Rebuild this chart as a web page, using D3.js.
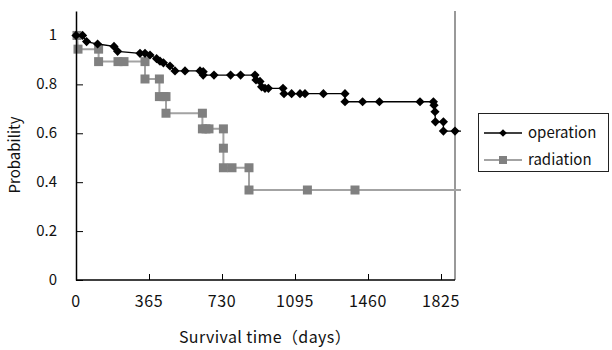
<!DOCTYPE html>
<html lang="en">
<head>
  <meta charset="UTF-8">
  <title>Survival curves</title>
  <script src="https://d3js.org/d3.v7.min.js"></script>
  <style>
    body {
      margin: 0;
      background: #fff;
    }
    svg text {
      font-family: "Noto Sans CJK JP", "Noto Sans", sans-serif;
      fill: #111;
    }
  </style>
</head>
<body>
  <script>
    // Kaplan-Meier points (days, probability)
    const opDays = [0, 33, 53, 108, 190, 208, 320, 345, 370, 403, 420, 437, 470, 495, 545, 620, 636, 636,
      690, 773, 823, 895, 900, 920, 928, 945, 962, 1035, 1040, 1078, 1120, 1145, 1237, 1345, 1345,
      1433, 1517, 1720, 1787, 1790, 1795, 1797, 1837, 1837, 1895];
    const opProb = [1.0, 1.0, 0.975, 0.965, 0.955, 0.935, 0.927, 0.927, 0.92, 0.905, 0.895, 0.888, 0.875, 0.855, 0.855, 0.855, 0.852, 0.838,
      0.838, 0.838, 0.838, 0.838, 0.818, 0.812, 0.79, 0.784, 0.784, 0.784, 0.762, 0.762, 0.762, 0.762, 0.762, 0.762, 0.729,
      0.729, 0.729, 0.729, 0.729, 0.715, 0.688, 0.647, 0.647, 0.609, 0.609];

    const radDays = [5, 10, 113, 113, 210, 240, 345, 345, 417, 417, 440, 450, 450, 632, 632, 650, 665, 737, 737, 737, 780, 865, 865, 1157, 1395];
    const radProb = [1.0, 0.944, 0.944, 0.893, 0.893, 0.893, 0.893, 0.822, 0.822, 0.75, 0.75, 0.75, 0.682, 0.682, 0.618, 0.618, 0.618, 0.618, 0.539, 0.459, 0.459, 0.459, 0.368, 0.368, 0.368];

    const followUpEnd = 1925; // lines run a little past the last marker

    const xTicks = [0, 365, 730, 1095, 1460, 1825];
    const yTicks = [0, 0.2, 0.4, 0.6, 0.8, 1];
    const seriesNames = ['operation', 'radiation'];

    const width = 612;
    const height = 350;

    const x = d3.scaleLinear().domain([0, 1895]).range([76, 455]);
    const y = d3.scaleLinear().domain([0, 1.1]).range([280, 11]);

    const svg = d3.select('body')
      .append('svg')
      .attr('width', width)
      .attr('height', height);

    const opPts = opDays.map((d, i) => [d, opProb[i]]);
    const radPts = radDays.map((d, i) => [d, radProb[i]]);

    const line = d3.line()
      .x(d => x(d[0]))
      .y(d => y(d[1]));

    const diamond = 'M0,-4.6L4.6,0L0,4.6L-4.6,0Z';

    // right frame line
    svg.append('line')
      .attr('x1', x(1895)).attr('x2', x(1895))
      .attr('y1', y(1.1)).attr('y2', y(0))
      .style('stroke', '#555')
      .style('stroke-width', 1.2);

    // radiation
    svg.append('path')
      .datum(radPts.concat([[followUpEnd, radProb[radProb.length - 1]]]))
      .attr('d', line)
      .style('fill', 'none')
      .style('stroke', '#a3a3a3')
      .style('stroke-width', 2);

    svg.selectAll('.rad')
      .data(radPts)
      .enter()
      .append('rect')
      .attr('class', 'rad')
      .attr('x', d => x(d[0]) - 4.5)
      .attr('y', d => y(d[1]) - 4.5)
      .attr('width', 9)
      .attr('height', 9)
      .style('fill', '#808080');

    // operation
    svg.append('path')
      .datum(opPts.concat([[followUpEnd, opProb[opProb.length - 1]]]))
      .attr('d', line)
      .style('fill', 'none')
      .style('stroke', '#000')
      .style('stroke-width', 1.3);

    svg.selectAll('.op')
      .data(opPts)
      .enter()
      .append('path')
      .attr('class', 'op')
      .attr('d', diamond)
      .attr('transform', d => `translate(${x(d[0])},${y(d[1])})`)
      .style('fill', '#000');

    // axes
    const xAxis = svg.append('g')
      .attr('transform', `translate(0,${y(0)})`)
      .call(d3.axisTop(x).tickValues(xTicks).tickSize(6).tickSizeOuter(0).tickFormat(''));
    xAxis.select('.domain').attr('d', `M${x(0)},0H${x(1895)}`);

    const yAxis = svg.append('g')
      .attr('transform', `translate(${x(0)},0)`)
      .call(d3.axisRight(y).tickValues(yTicks).tickSize(7).tickSizeOuter(0).tickFormat(''));

    svg.selectAll('.domain').style('stroke', '#000').style('stroke-width', 1.5);
    svg.selectAll('.tick line').style('stroke', '#000');

    svg.selectAll('.xlab')
      .data(xTicks)
      .enter()
      .append('text')
      .attr('x', d => x(d))
      .attr('y', 307)
      .attr('text-anchor', 'middle')
      .style('font-size', '16px')
      .style('letter-spacing', '0.6px')
      .text(d => d);

    svg.selectAll('.ylab')
      .data(yTicks)
      .enter()
      .append('text')
      .attr('x', 57)
      .attr('y', d => y(d) + 5)
      .attr('text-anchor', 'end')
      .style('font-size', '15px')
      .text(d => d);

    svg.append('text')
      .attr('x', 265)
      .attr('y', 343)
      .attr('text-anchor', 'middle')
      .style('font-size', '16px')
      .style('letter-spacing', '0.4px')
      .text('Survival time（days）');

    svg.append('text')
      .attr('transform', 'translate(20,155) rotate(-90)')
      .attr('text-anchor', 'middle')
      .style('font-size', '15px')
      .text('Probability');

    // legend
    const legend = svg.append('g');
    legend.append('rect')
      .attr('x', 478.5)
      .attr('y', 113.5)
      .attr('width', 130)
      .attr('height', 58)
      .style('fill', '#fff')
      .style('stroke', '#222')
      .style('stroke-width', 1);

    seriesNames.forEach((name, i) => {
      const ly = 133 + i * 27;
      legend.append('line')
        .attr('x1', 484).attr('x2', 522)
        .attr('y1', ly).attr('y2', ly)
        .style('stroke', i === 0 ? '#000' : '#a3a3a3')
        .style('stroke-width', i === 0 ? 1.3 : 2);
      if (i === 0) {
        legend.append('path')
          .attr('d', 'M0,-3.8L3.8,0L0,3.8L-3.8,0Z')
          .attr('transform', `translate(503,${ly})`)
          .style('fill', '#000');
      } else {
        legend.append('rect')
          .attr('x', 499).attr('y', ly - 4)
          .attr('width', 8).attr('height', 8)
          .style('fill', '#808080');
      }
      legend.append('text')
        .attr('x', 528)
        .attr('y', ly + 5)
        .style('font-size', '15px')
        .text(name);
    });
  </script>
</body>
</html>
